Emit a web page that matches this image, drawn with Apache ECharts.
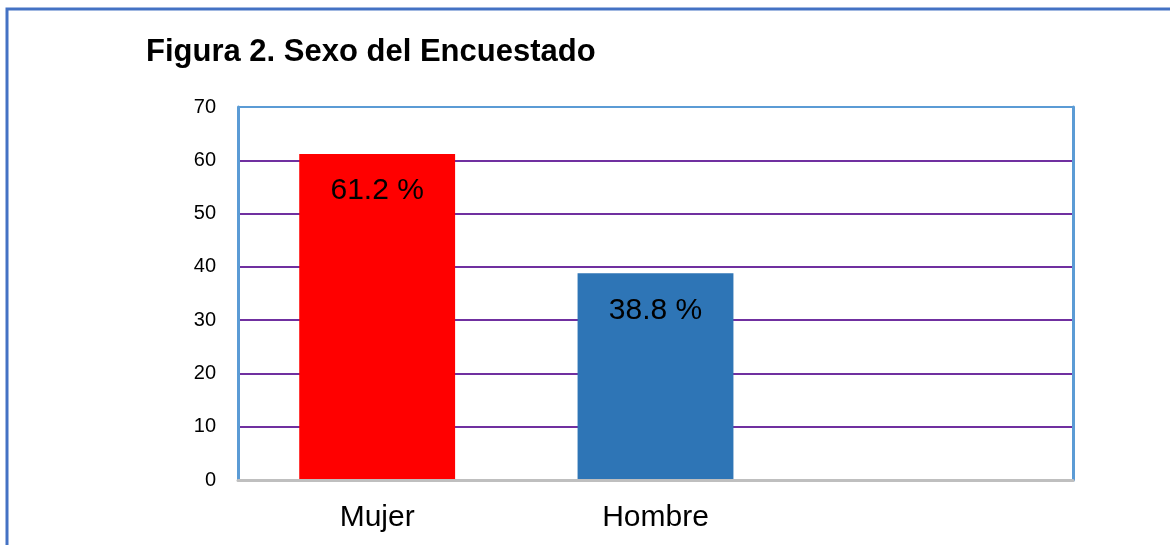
<!DOCTYPE html>
<html>
<head>
<meta charset="utf-8">
<script src="https://cdn.jsdelivr.net/npm/echarts@6/dist/echarts.min.js"></script>
<style>
  html, body { margin: 0; padding: 0; background: #fff; }
  #chart { width: 1170px; height: 545px; }
</style>
</head>
<body>
<div id="chart"></div>
<script>
  // datos del gráfico
  const categories = ['Mujer', 'Hombre', '']
  const values = [61.2, 38.8, null]
  const barColors = ['#ff0000', '#2e75b6']
  const yTicks = [0, 10, 20, 30, 40, 50, 60, 70]

  const chart = echarts.init(document.getElementById('chart'))

  const option = {
    backgroundColor: '#fff',
    animation: false,
    title: {
      text: 'Figura 2. Sexo del Encuestado',
      left: 141,
      top: 32,
      textStyle: {
        fontFamily: 'Liberation Sans',
        fontWeight: 'bold',
        fontSize: 31,
        color: '#000'
      }
    },
    // borde exterior
    graphic: [{
      type: 'rect',
      shape: { x: 7, y: 9, width: 1300, height: 700 },
      style: { fill: 'none', stroke: '#4472c4', lineWidth: 3 },
      silent: true
    }],
    grid: {
      left: 238,
      right: 97,
      top: 107,
      bottom: 65
    },
    xAxis: {
      type: 'category',
      data: categories,
      z: 5,
      axisLine: { show: true, lineStyle: { color: '#bfbfbf', width: 3 } },
      axisTick: { show: false },
      axisLabel: {
        margin: 23,
        fontFamily: 'Liberation Sans',
        fontSize: 30,
        color: '#000'
      }
    },
    yAxis: [{
      type: 'value',
      min: yTicks[0],
      max: yTicks[yTicks.length - 1],
      interval: 10,
      axisLine: { show: true, lineStyle: { color: '#5b9bd5', width: 3 } },
      axisTick: { show: false },
      splitLine: {
        show: true,
        lineStyle: {
          width: 2,
          // 0 queda bajo el eje, 70 es el borde azul
          color: ['#bfbfbf', '#7030a0', '#7030a0', '#7030a0', '#7030a0', '#7030a0', '#7030a0', '#5b9bd5']
        }
      },
      axisLabel: {
        margin: 22,
        padding: [4, 0, 0, 0],
        fontFamily: 'Liberation Sans',
        fontSize: 20,
        color: '#000'
      }
    }, {
      // borde derecho
      type: 'value',
      position: 'right',
      min: yTicks[0],
      max: yTicks[yTicks.length - 1],
      interval: 10,
      axisLine: { show: true, lineStyle: { color: '#5b9bd5', width: 3 } },
      axisTick: { show: false },
      axisLabel: { show: false },
      splitLine: { show: false }
    }],
    series: [{
      type: 'bar',
      barWidth: '56%',
      data: values.map((v, i) => ({
        value: v,
        itemStyle: { color: barColors[i] }
      })),
      label: {
        show: true,
        position: 'insideTop',
        distance: 22,
        formatter: p => p.value.toFixed(1) + ' %',
        fontFamily: 'Liberation Sans',
        fontSize: 30,
        color: '#000'
      }
    }]
  }

  chart.setOption(option)
</script>
</body>
</html>
